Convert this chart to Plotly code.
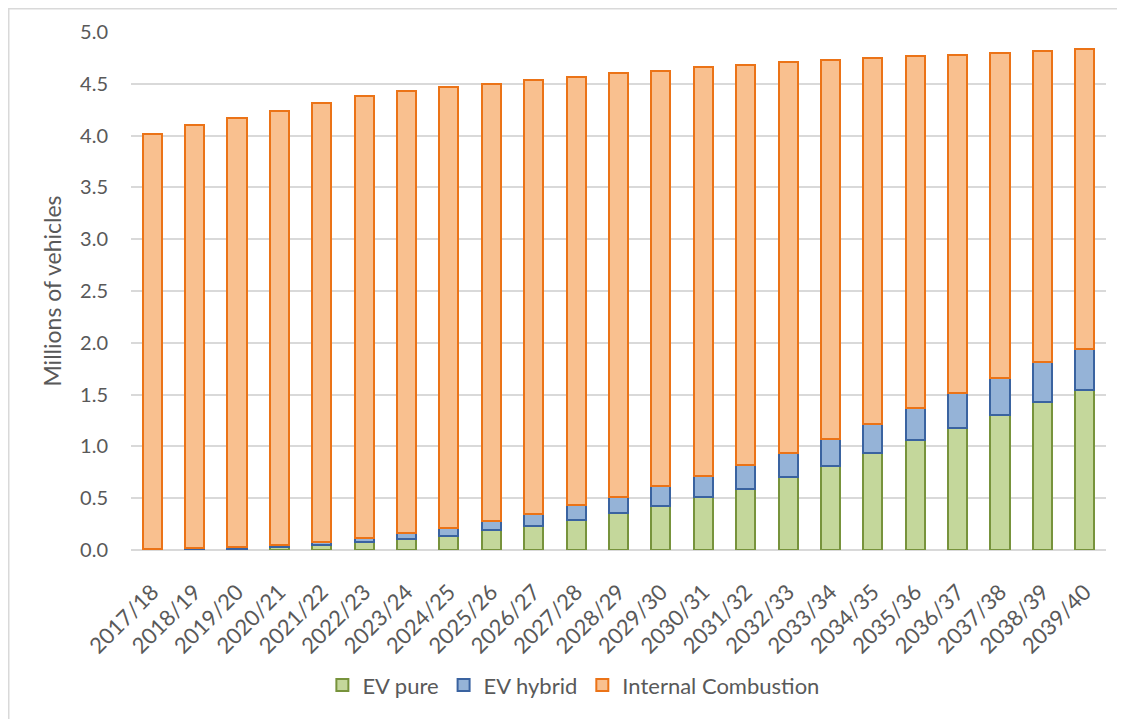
import plotly.graph_objects as go

years = ["2017/18", "2018/19", "2019/20", "2020/21", "2021/22", "2022/23", "2023/24",
         "2024/25", "2025/26", "2026/27", "2027/28", "2028/29", "2029/30", "2030/31",
         "2031/32", "2032/33", "2033/34", "2034/35", "2035/36", "2036/37", "2037/38",
         "2038/39", "2039/40"]

ev_pure = [0.0, 0.0, 0.01, 0.025, 0.05, 0.08, 0.11, 0.14, 0.19, 0.235, 0.285, 0.36,
           0.42, 0.51, 0.59, 0.70, 0.81, 0.935, 1.06, 1.18, 1.30, 1.43, 1.54]
ev_hybrid = [0.005, 0.015, 0.02, 0.025, 0.025, 0.04, 0.055, 0.075, 0.09, 0.11, 0.145,
             0.155, 0.195, 0.20, 0.23, 0.235, 0.26, 0.285, 0.31, 0.335, 0.36, 0.38, 0.40]
internal_combustion = [4.015, 4.085, 4.14, 4.19, 4.235, 4.26, 4.265, 4.255, 4.22, 4.195,
                       4.14, 4.085, 4.01, 3.95, 3.86, 3.775, 3.66, 3.53, 3.40, 3.265,
                       3.14, 3.01, 2.90]

y_ticks = [0.0, 0.5, 1.0, 1.5, 2.0, 2.5, 3.0, 3.5, 4.0, 4.5, 5.0]

W, H = 1125, 719
# page body adds an 8px offset; margins compensate
ML, MR, MT, MB = 123, 27, 24, 177
FONT = "Lato, 'Open Sans', sans-serif"
TXT = "#595959"
GRID = "#D9D9D9"

series = [
    ("EV pure", ev_pure, "#C4D79B", "#77933C"),
    ("EV hybrid", ev_hybrid, "#95B3D7", "#3A63A0"),
    ("Internal Combustion", internal_combustion, "#F9C08F", "#EB7317"),
]

fig = go.Figure()
for name, vals, fill, edge in series:
    fig.add_trace(go.Bar(
        x=years, y=vals, name=name,
        marker=dict(color=fill, line=dict(color=edge, width=2)),
    ))

pw = W - ML - MR
ph = H - MT - MB
fig.add_shape(type="rect", xref="paper", yref="paper",
              x0=(0.75 - ML) / pw, x1=(W + 10 - ML) / pw,
              y0=1 - (H + 10 - MT) / ph, y1=1 - (0.75 - MT) / ph,
              line=dict(color=GRID, width=1.5), fillcolor="rgba(0,0,0,0)", layer="below")

fig.update_layout(
    width=W, height=H,
    margin=dict(l=ML, r=MR, t=MT, b=MB, autoexpand=False),
    paper_bgcolor="white", plot_bgcolor="white",
    barmode="stack", bargap=0.55,
    font=dict(family=FONT, size=20, color=TXT),
    showlegend=True,
    legend=dict(orientation="h", xref="container", yref="container",
                x=0.503, y=0.058, xanchor="center", yanchor="middle",
                traceorder="normal", font=dict(size=22, color=TXT),
                itemclick=False),
    xaxis=dict(tickangle=-45, showgrid=False, showline=False, zeroline=False,
               ticks="", tickfont=dict(size=22, color=TXT), ticklabelstandoff=24),
    yaxis=dict(range=[0, 5], tickvals=y_ticks, tickformat=".1f",
               showgrid=True, gridcolor=GRID, gridwidth=1.5,
               zeroline=True, zerolinecolor=GRID, zerolinewidth=2,
               showline=False, ticks="", tickfont=dict(size=20, color=TXT),
               ticklabelstandoff=22,
               title=dict(text="Millions of vehicles", font=dict(size=23, color=TXT),
                          standoff=12)),
)

fig.write_html("out.html")
